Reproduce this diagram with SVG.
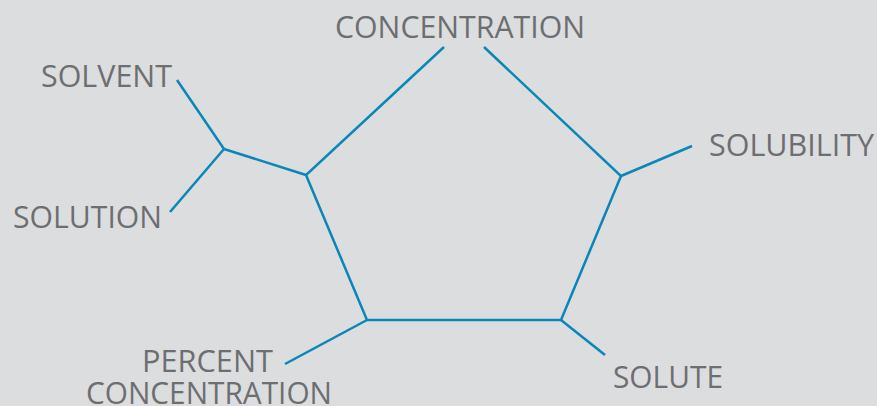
<svg xmlns="http://www.w3.org/2000/svg" width="877" height="406" viewBox="0 0 877 406">
<style>
.bg{fill:#dcdddf}
.lbl{font-family:"Open Sans","Liberation Sans",sans-serif;font-size:31px;fill:#6d6e71}
.ln{stroke:#0a86b8;stroke-width:2.5;fill:none;stroke-linecap:butt;stroke-linejoin:miter}
</style>
<rect class="bg" x="0" y="0" width="877" height="406"/>
<g id="connectors">
<polyline class="ln" points="444,47 306,175 367,320 561,320 621,176 484,47"/>
<line class="ln" x1="306" y1="175" x2="224" y2="149"/>
<line class="ln" x1="224" y1="149" x2="177" y2="80"/>
<line class="ln" x1="224" y1="149" x2="170" y2="212"/>
<line class="ln" x1="621" y1="176" x2="692" y2="146"/>
<line class="ln" x1="561" y1="320" x2="605" y2="355"/>
<line class="ln" x1="367" y1="320" x2="285" y2="364"/>
</g>
<g id="concentration"><text class="lbl" x="335" y="38" textLength="250" lengthAdjust="spacingAndGlyphs">CONCENTRATION</text></g>
<g id="solvent"><text class="lbl" x="41" y="87" textLength="131" lengthAdjust="spacingAndGlyphs">SOLVENT</text></g>
<g id="solution"><text class="lbl" x="13" y="228" textLength="149" lengthAdjust="spacingAndGlyphs">SOLUTION</text></g>
<g id="solubility"><text class="lbl" x="709" y="156" textLength="165" lengthAdjust="spacingAndGlyphs">SOLUBILITY</text></g>
<g id="solute"><text class="lbl" x="613" y="388" textLength="110" lengthAdjust="spacingAndGlyphs">SOLUTE</text></g>
<g id="percent-concentration">
<text class="lbl" x="142" y="372" textLength="131" lengthAdjust="spacingAndGlyphs">PERCENT</text>
<text class="lbl" x="86" y="404" textLength="246" lengthAdjust="spacingAndGlyphs">CONCENTRATION</text>
</g>
</svg>
